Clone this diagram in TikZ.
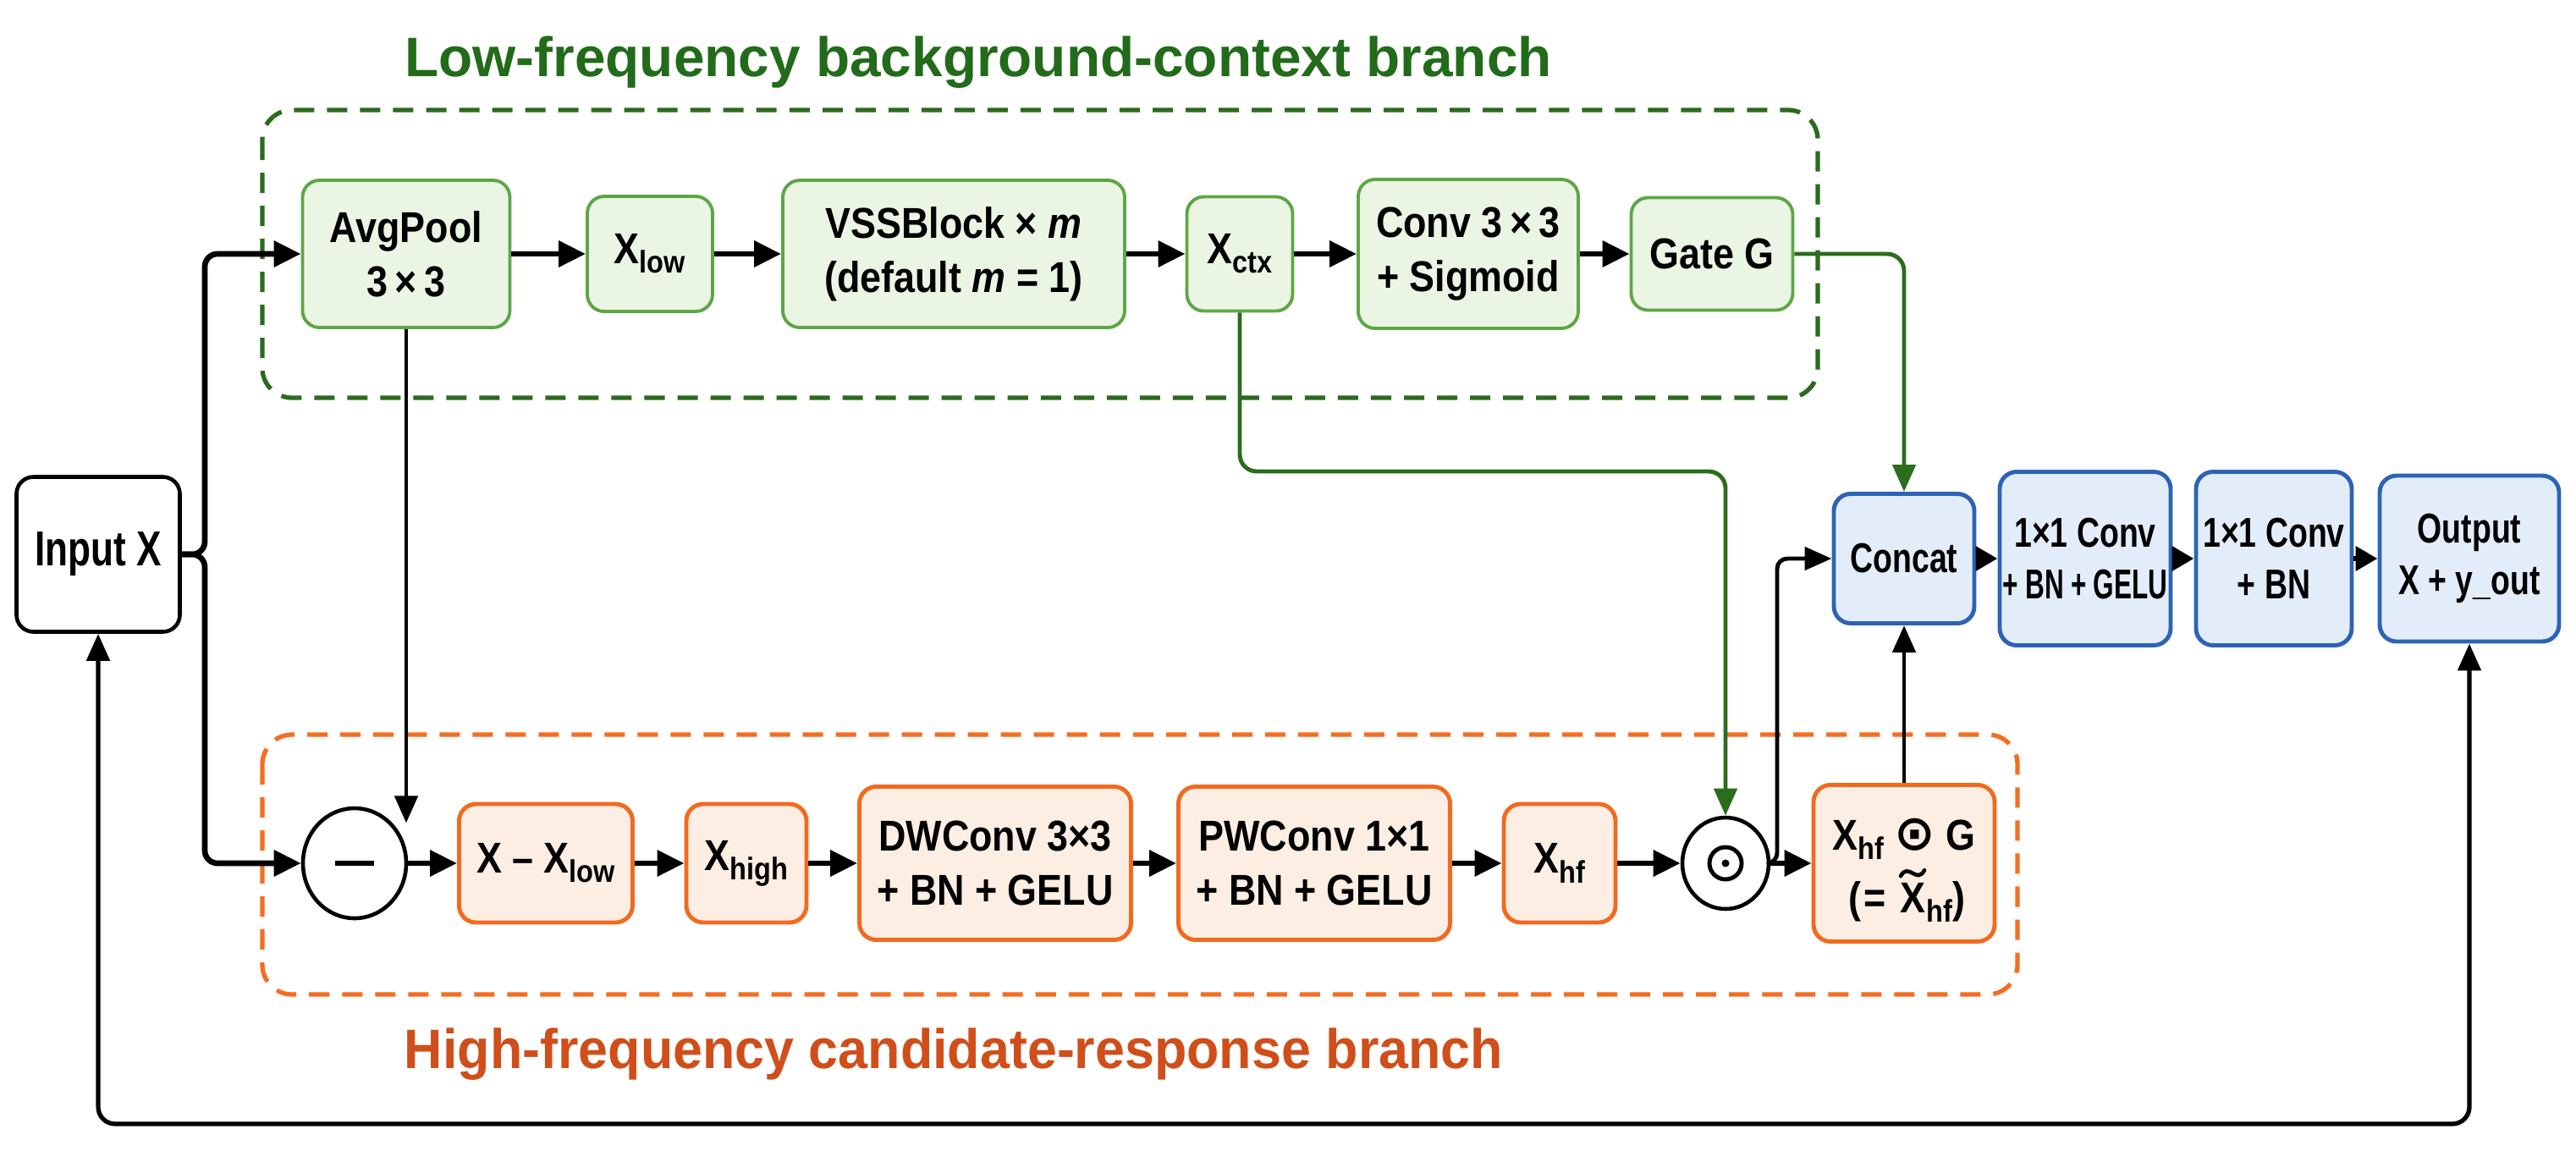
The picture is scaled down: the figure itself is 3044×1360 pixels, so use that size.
\documentclass[tikz,border=0pt]{standalone}
\usepackage{fontspec}
\setmainfont{Liberation Sans}
\newfontfamily\ttlfont{Liberation Sans}
\newfontfamily\ttlfontn{Liberation Sans}[FakeStretch=0.955]
\newfontfamily\bxa{Liberation Sans}[FakeStretch=0.88]
\newfontfamily\bxb{Liberation Sans}[FakeStretch=0.76]
\newfontfamily\bxc{Liberation Sans}[FakeStretch=0.64]
\newfontfamily\djv{DejaVu Sans}
\usetikzlibrary{arrows.meta,shapes.geometric,calc}
\newcommand\lsub[1]{\raisebox{-0.22em}{\fontsize{10.5}{11}\selectfont #1}}
\definecolor{gT}{HTML}{226B1A}
\definecolor{gL}{HTML}{2B6D1D}
\definecolor{gB}{HTML}{5DA646}
\definecolor{gF}{HTML}{EBF5E3}
\definecolor{gD}{HTML}{2C6A1E}
\definecolor{oT}{HTML}{D04E1A}
\definecolor{oB}{HTML}{F26A1F}
\definecolor{oF}{HTML}{FDEEE3}
\definecolor{oD}{HTML}{F36E22}
\definecolor{bB}{HTML}{2D63B5}
\definecolor{bF}{HTML}{E3EDF9}
\tikzset{
 sz/.style 2 args={minimum width=#1*0.01cm, minimum height=#2*0.01cm},
 box/.style={rounded corners=0.2cm, line width=1.1pt, align=center, inner sep=0pt, font=\bxa\bfseries\fontsize{14.5}{18.2}\selectfont},
 gbox/.style={box, draw=gB, fill=gF},
 obox/.style={box, draw=oB, fill=oF, line width=1.4pt},
 bbox/.style={box, draw=bB, fill=bF, line width=1.4pt, font=\bxb\bfseries\fontsize{14}{17.5}\selectfont},
 kbox/.style={box, draw=black, fill=white, line width=1.3pt, font=\bxb\bfseries\fontsize{16.5}{19}\selectfont},
 txt/.style={inner sep=0pt, font=\bxa\bfseries\fontsize{14.5}{18.2}\selectfont},
 main/.style={line width=1.9pt, -{Triangle[length=0.32cm,width=0.30cm]}},
 mainS/.style={line width=1.9pt, -{Triangle[length=0.26cm,width=0.28cm]}},
 conn/.style={line width=1.4pt, -{Triangle[length=0.32cm,width=0.27cm]}},
 gconn/.style={conn, color=gL},
 gdash/.style={draw=gD, line width=1.5pt, dash pattern=on 0.24cm off 0.15cm, rounded corners=0.35cm},
 odash/.style={draw=oD, line width=1.5pt, dash pattern=on 0.24cm off 0.15cm, rounded corners=0.35cm},
 ttl/.style={anchor=base, font=\ttlfont\bfseries\fontsize{18.7}{22}\selectfont},
}
\begin{document}
\begin{tikzpicture}[x=0.01cm,y=-0.01cm]
\useasboundingbox (0,0) rectangle (3044,1360);
% containers
\draw[gdash] (310,130) rectangle (2148,470);
\draw[odash] (310,868) rectangle (2384,1175);
% titles
\node[ttl, text=gT] (t1) at (1156,90) {Low-frequency background-context branch};
\node[ttl, text=oT, font=\ttlfontn\bfseries\fontsize{18.7}{22}\selectfont] (t2) at (1127,1262) {High-frequency candidate-response branch};
% input
\node[kbox, sz={193}{183}] (inp) at (116,655) {Input X};
% top row
\node[gbox, sz={245}{174}] (avg) at (480,300) {AvgPool\\3\,×\,3};
\node[gbox, sz={148}{136}] (xlow) at (768,300) {X\lsub{low}};
\node[gbox, sz={404}{174}] (vss) at (1127,300) {VSSBlock × \textit{m}\\(default \textit{m} = 1)};
\node[gbox, sz={125}{135}] (xctx) at (1465,300) {X\lsub{ctx}};
\node[gbox, sz={260}{176}] (conv) at (1735,300) {Conv 3\,×\,3\\+ Sigmoid};
\node[gbox, sz={191}{133}] (gate) at (2023,300) {Gate G};
% bottom row
\node[ellipse, draw, line width=1.3pt, fill=white, sz={122}{130}, inner sep=0pt] (mc) at (419,1020) {};
\draw[line width=0.06cm] ($(mc.center)+(-23,0)$) -- ($(mc.center)+(23,0)$);
\node[obox, sz={205}{140}] (xsub) at (645,1020) {X – X\lsub{low}};
\node[obox, sz={142}{140}] (xhigh) at (882,1020) {X\lsub{high}};
\node[obox, sz={321}{181}] (dw) at (1176,1020) {DWConv 3×3\\+ BN + GELU};
\node[obox, sz={321}{181}] (pw) at (1553,1020) {PWConv 1×1\\+ BN + GELU};
\node[obox, sz={132}{140}] (xhf) at (1843,1020) {X\lsub{hf}};
\node[ellipse, draw, line width=1.3pt, fill=white, sz={102}{108}, inner sep=0pt] (od) at (2039,1020) {};
\draw[line width=1.4pt] (od.center) circle[radius=0.19cm];
\fill (od.center) circle[radius=0.045cm];
\node[obox, sz={214}{185}] (xg) at (2250,1020) {};
\node[txt, anchor=base] (xgl1) at (2250,1004) {X\lsub{hf} {\djv\bfseries\fontsize{16.5}{18}\selectfont ⊙} G};
\node[txt, anchor=base] (xgX) at (2260,1078) {X};
\node[txt, anchor=base east] (xgL) at (xgX.base west) {(\kern0.06em=\kern0.3em};
\node[txt, anchor=base west] (xgR) at (xgX.base east) {\lsub{hf})};
\draw[line width=1.3pt, line cap=round] ([xshift=-0.14cm,yshift=0.07cm]xgX.north) .. controls ([xshift=-0.05cm,yshift=0.24cm]xgX.north) and ([xshift=0.05cm,yshift=-0.03cm]xgX.north) .. ([xshift=0.14cm,yshift=0.14cm]xgX.north);
% right column
\node[bbox, sz={166}{153}] (concat) at (2250,660) {Concat};
\node[bbox, sz={202}{205}] (c1) at (2464,660) {1×1 Conv\\{\bxc +\,BN\,+\,GELU}};
\node[bbox, sz={184}{205}] (c2) at (2687,660) {1×1 Conv\\+ BN};
\node[bbox, sz={212}{196}] (out) at (2918,660) {Output\\X + y\_out};
% coordinates
\coordinate (br) at (242,655);
\coordinate (gk) at (1465,557);
\coordinate (jn) at (2100,1020);
\coordinate (lp) at (0,1328);
% input split
\draw[main, rounded corners=0.15cm] (inp.east) -- (br) |- (avg.west);
\draw[main, rounded corners=0.15cm] (inp.east) -- (br) |- (mc.west);
% top flow
\draw[main] (avg) -- (xlow);
\draw[main] (xlow) -- (vss);
\draw[main] (vss) -- (xctx);
\draw[main] (xctx) -- (conv);
\draw[main] (conv) -- (gate);
% green connectors
\draw[gconn, rounded corners=0.2cm] (gate.east) -| (concat.north);
\draw[gconn, rounded corners=0.2cm] (xctx.south) -- (gk) -| (od.north);
% avgpool to minus
\draw[conn] (avg.south) -- (avg.south |- mc.north east);
% bottom flow
\draw[main] (mc) -- (xsub);
\draw[main] (xsub) -- (xhigh);
\draw[main] (xhigh) -- (dw);
\draw[main] (dw) -- (pw);
\draw[main] (pw) -- (xhf);
\draw[main] (xhf) -- (od);
\draw[main] (od) -- (xg);
\draw[conn, rounded corners=0.12cm] (od.east) -- (jn) |- (concat.west);
\draw[conn] (xg.north) -- (concat.south);
% right flow
\draw[mainS] (concat) -- (c1);
\draw[mainS] (c1) -- (c2);
\draw[mainS] (c2) -- (out);
% loop
\draw[line width=1.5pt, rounded corners=0.2cm, {Triangle[length=0.32cm,width=0.27cm]}-{Triangle[length=0.32cm,width=0.27cm]}] (inp.south) -- (inp.south |- lp) -| (out.south);
\end{tikzpicture}
\end{document}
